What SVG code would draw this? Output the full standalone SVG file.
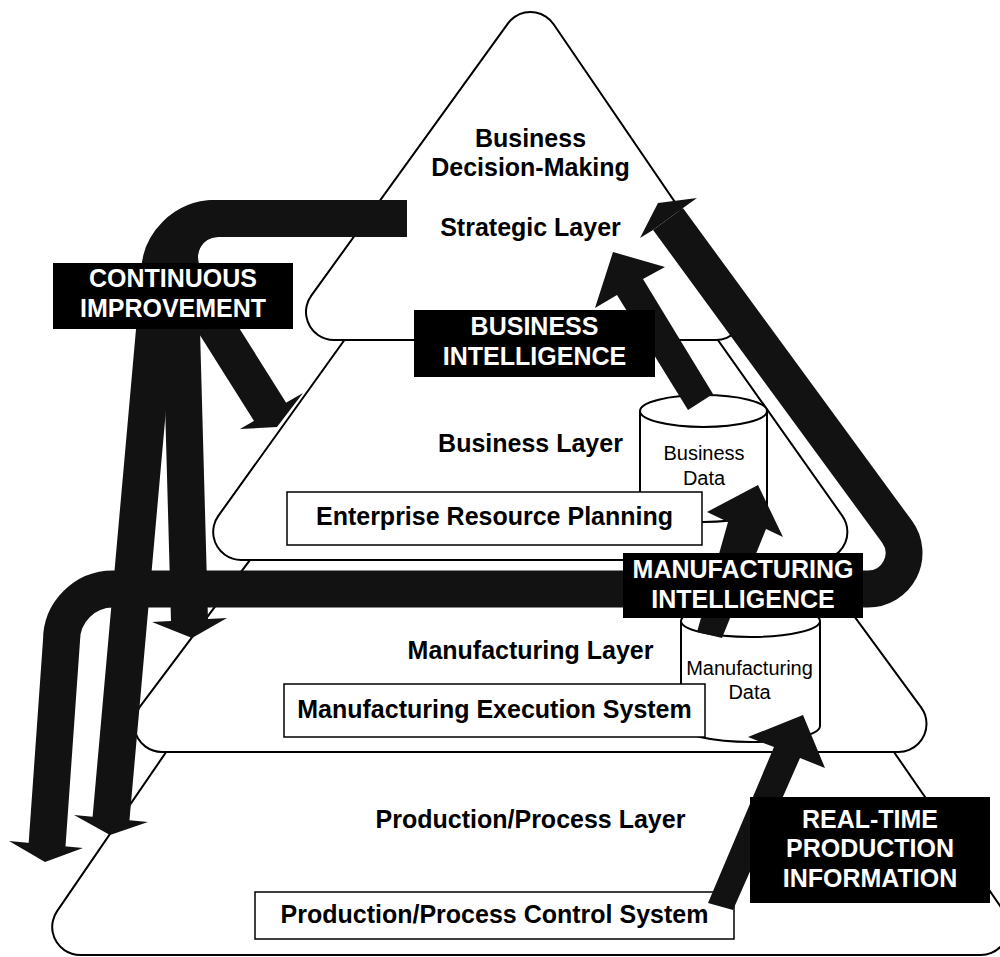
<svg xmlns="http://www.w3.org/2000/svg" width="1000" height="957" viewBox="0 0 1000 957">
<style>
.lo{fill:#000;stroke:#000;stroke-width:58;stroke-linejoin:round}
.li{fill:#fff;stroke:#fff;stroke-width:54;stroke-linejoin:round}
.t{font-family:"Liberation Sans",Arial,Helvetica,sans-serif;font-weight:bold;font-size:25px;text-anchor:middle;fill:#000}
.w{fill:#fff}
.c{font-weight:normal;font-size:20px}
.box{fill:#fff;stroke:#000;stroke-width:1.5}
.lab{fill:#000}
.cyl{fill:#fff;stroke:#000;stroke-width:2}
.ar{fill:none;stroke:#121212;stroke-width:37;stroke-linejoin:round}
.ah{fill:#121212}
</style>
<rect width="1000" height="957" fill="#fff"/>
<g id="layer-production">
<polygon class="lo" points="528.8,272.1 80.2,927 980.7,927"/>
<polygon class="li" points="528.8,272.1 80.2,927 980.7,927"/>
<text class="t" x="530.5" y="828">Production/Process Layer</text>
</g>
<g id="layer-manufacturing">
<polygon class="lo" points="534.4,227.4 162,724 898.5,724"/>
<polygon class="li" points="534.4,227.4 162,724 898.5,724"/>
<text class="t" x="530.5" y="659">Manufacturing Layer</text>
</g>
<g id="layer-business">
<polygon class="lo" points="532.3,126 241.2,532 819.4,532"/>
<polygon class="li" points="532.3,126 241.2,532 819.4,532"/>
<text class="t" x="530.5" y="452">Business Layer</text>
</g>
<g id="layer-strategic">
<polygon class="lo" points="530.5,40 334,312 716,312"/>
<polygon class="li" points="530.5,40 334,312 716,312"/>
<text class="t" x="530.5" y="147">Business</text>
<text class="t" x="530.5" y="176">Decision-Making</text>
<text class="t" x="530.5" y="236">Strategic Layer</text>
</g>
<g id="business-data">
<path class="cyl" d="M640,411 V506 A63.5,16 0 0 0 767,506 V411"/>
<ellipse class="cyl" cx="703.5" cy="411" rx="63.5" ry="16"/>
<text class="t c" x="704" y="460">Business</text>
<text class="t c" x="704" y="485">Data</text>
</g>
<g id="manufacturing-data">
<path class="cyl" d="M681,621 V726 A69.5,16 0 0 0 820,726 V621"/>
<ellipse class="cyl" cx="750.5" cy="621" rx="69.5" ry="16"/>
<text class="t c" x="749.5" y="675">Manufacturing</text>
<text class="t c" x="749.5" y="699">Data</text>
</g>
<g id="erp">
<rect class="box" x="287" y="492" width="415" height="53"/>
<text class="t" x="494.5" y="525">Enterprise Resource Planning</text>
</g>
<g id="mes">
<rect class="box" x="284" y="684" width="421" height="53"/>
<text class="t" x="494.5" y="718">Manufacturing Execution System</text>
</g>
<g id="ppcs">
<rect class="box" x="255" y="892" width="479" height="47"/>
<text class="t" x="494.5" y="923">Production/Process Control System</text>
</g>
<g id="connectors">
<path class="ar" d="M407,218.5 H215 A55.5,55.5 0 0 0 159.5,274 L110.8,821"/>
<polygon class="ah" points="74,815 148,822 110,835"/>
<path class="ar" d="M407,218.5 H218 A38.5,38.5 0 0 0 179.5,257 L189.6,624"/>
<polygon class="ah" points="152,622 227,618 192,638"/>
<path class="ar" d="M407,218.5 H218 A38.5,38.5 0 0 0 185.4,277.5 L270.8,413"/>
<polygon class="ah" points="240,429 303,393 277,427"/>
<polygon class="ah" points="688,410 617,295 595,308 613,252 665,267 643,279 713,394"/>
<polygon class="ah" points="697,632 728,522 707,512 758,485 783,537 766,529 722,638"/>
<polygon class="ah" points="708,903 774,747 748,737 803,715 825,768 800,758 733,910"/>
<path class="ar" d="M668,219 L897.1,531.8 A36,36 0 0 1 868,589 H113 A51.5,51.5 0 0 0 61.5,640.5 L47,846"/>
<polygon class="ah" points="653,230 640,238 658,203 697,198 683,208"/>
<polygon class="ah" points="9,841 83,848 45,862"/>
</g>
<g id="label-ci">
<rect class="lab" x="53" y="263" width="240" height="66"/>
<text class="t w" x="173" y="287">CONTINUOUS</text>
<text class="t w" x="173" y="317">IMPROVEMENT</text>
</g>
<g id="label-bi">
<rect class="lab" x="414" y="310" width="241" height="67"/>
<text class="t w" x="534.5" y="335">BUSINESS</text>
<text class="t w" x="534.5" y="365">INTELLIGENCE</text>
</g>
<g id="label-mi">
<rect class="lab" x="623" y="553" width="240" height="65"/>
<text class="t w" x="743" y="578">MANUFACTURING</text>
<text class="t w" x="743" y="608">INTELLIGENCE</text>
</g>
<g id="label-rt">
<rect class="lab" x="750" y="797" width="240" height="106"/>
<text class="t w" x="870" y="828">REAL-TIME</text>
<text class="t w" x="870" y="857">PRODUCTION</text>
<text class="t w" x="870" y="887">INFORMATION</text>
</g>
</svg>
